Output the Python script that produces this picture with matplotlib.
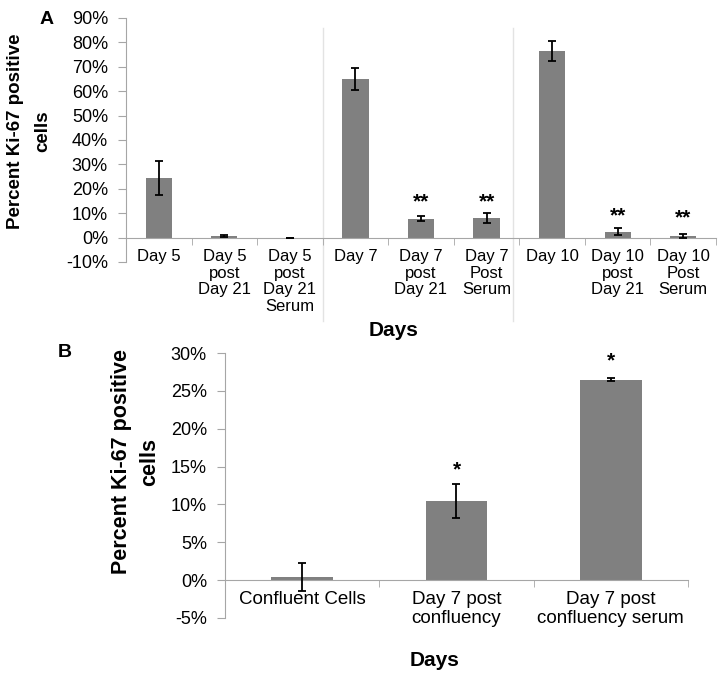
import matplotlib
matplotlib.use("Agg")
import matplotlib.pyplot as plt
import numpy as np

plt.rcParams['font.family'] = ['Liberation Sans', 'DejaVu Sans']

# ---- Panel A data ----
a_labels = ["Day 5", "Day 5\npost\nDay 21", "Day 5\npost\nDay 21\nSerum", "Day 7",
            "Day 7\npost\nDay 21", "Day 7\nPost\nSerum", "Day 10", "Day 10\npost\nDay 21",
            "Day 10\nPost\nSerum"]
a_values = [24.5, 0.7, 0.0, 65.0, 7.8, 8.0, 76.5, 2.4, 0.5]
a_errors = [7.0, 0.3, 0.0, 4.5, 1.0, 2.2, 4.0, 1.4, 0.8]
a_stars = ["", "", "", "", "**", "**", "", "**", "**"]
a_star_y = [0, 0, 0, 0, 14.5, 14.5, 0, 8.8, 8.0]
a_yticks = [-10, 0, 10, 20, 30, 40, 50, 60, 70, 80, 90]

# ---- Panel B data ----
b_labels = ["Confluent Cells", "Day 7 post\nconfluency", "Day 7 post\nconfluency serum"]
b_values = [0.4, 10.45, 26.5]
b_errors = [1.85, 2.3, 0.15]
b_stars = ["", "*", "*"]
b_star_y = [0, 14.6, 29.0]
b_yticks = [-5, 0, 5, 10, 15, 20, 25, 30]

W, H = 724, 680
fig = plt.figure(figsize=(W / 100, H / 100), dpi=100)

BAR = '#808080'
AX = '#a6a6a6'


def style_axes(ax, n, labels, yticks, xfs, yfs):
    for s in ['top', 'right']:
        ax.spines[s].set_visible(False)
    ax.spines['left'].set_color(AX)
    ax.spines['bottom'].set_color(AX)
    ax.spines['bottom'].set_position(('data', 0))
    ax.set_xlim(-0.5, n - 0.5)
    ax.set_xticks(range(n))
    ax.set_xticklabels(labels, fontsize=xfs, linespacing=1.15)
    ax.set_xticks(np.arange(-0.5, n, 1.0), minor=True)
    ax.tick_params(axis='x', which='major', length=0, pad=8)
    ax.tick_params(axis='x', which='minor', length=5, color=AX, direction='out')
    ax.set_yticks(yticks)
    ax.set_yticklabels([f"{t}%" for t in yticks], fontsize=yfs)
    ax.set_ylim(yticks[0], yticks[-1])
    ax.tick_params(axis='y', length=6, color=AX, pad=7)


# Panel A
axA = fig.add_axes([126 / W, (H - 262) / H, (716 - 126) / W, (262 - 18) / H])
xa = np.arange(len(a_values))
axA.bar(xa, a_values, width=0.4, color=BAR, zorder=2)
axA.errorbar(xa, a_values, yerr=a_errors, fmt='none', ecolor='black',
             elinewidth=1.3, capsize=3, capthick=1.3, zorder=3)
style_axes(axA, len(a_values), a_labels, a_yticks, 12, 13)
for x, s, y in zip(xa, a_stars, a_star_y):
    if s:
        axA.text(x, y, s, ha='center', va='center', fontsize=15, fontweight='bold')
for xs in [2.5, 5.41]:
    axA.axvline(xs, ymin=-0.24, ymax=0.96, color='#e3e3e3', lw=1, clip_on=False, zorder=1)

fig.text(16 / W, 1 - 131 / H, "Percent Ki-67 positive", rotation=90, ha='center', va='center',
         fontsize=13.5, fontweight='bold')
fig.text(43 / W, 1 - 131 / H, "cells", rotation=90, ha='center', va='center',
         fontsize=13.5, fontweight='bold')
fig.text(394 / W, 1 - 330 / H, "Days", ha='center', va='center', fontsize=15, fontweight='bold')
fig.text(47 / W, 1 - 19 / H, "A", ha='center', va='center', fontsize=14, fontweight='bold')

# Panel B
axB = fig.add_axes([225 / W, (H - 618) / H, (688 - 225) / W, (618 - 353) / H])
xb = np.arange(len(b_values))
axB.bar(xb, b_values, width=0.4, color=BAR, zorder=2)
axB.errorbar(xb, b_values, yerr=b_errors, fmt='none', ecolor='black',
             elinewidth=1.3, capsize=3, capthick=1.3, zorder=3)
style_axes(axB, len(b_values), b_labels, b_yticks, 13.5, 13)
for x, s, y in zip(xb, b_stars, b_star_y):
    if s:
        axB.text(x, y, s, ha='center', va='center', fontsize=15, fontweight='bold')

fig.text(122 / W, 1 - 462 / H, "Percent Ki-67 positive", rotation=90, ha='center', va='center',
         fontsize=15.5, fontweight='bold')
fig.text(150 / W, 1 - 462 / H, "cells", rotation=90, ha='center', va='center',
         fontsize=15.5, fontweight='bold')
fig.text(435 / W, 1 - 660 / H, "Days", ha='center', va='center', fontsize=15, fontweight='bold')
fig.text(65 / W, 1 - 352 / H, "B", ha='center', va='center', fontsize=14, fontweight='bold')

fig.savefig("out.png", dpi=100)
